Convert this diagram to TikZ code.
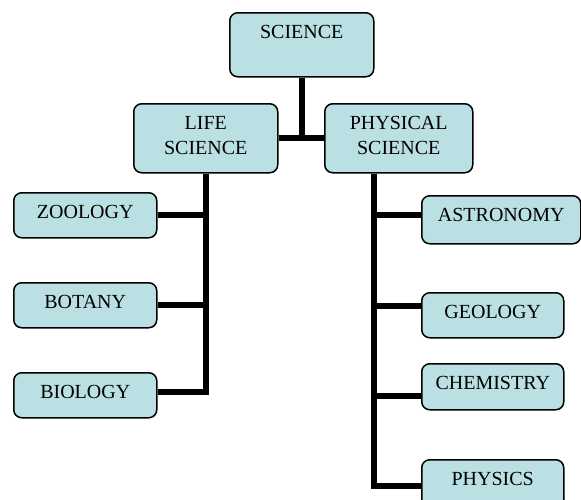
\documentclass[tikz,border=0pt]{standalone}
\usepackage{fontspec}
\setmainfont{Liberation Serif}
\usepackage{tikz}
\usepackage{xcolor}
\definecolor{boxfill}{RGB}{187,224,227}
\tikzset{
    topic-box/.style = {draw=black, fill=boxfill, line width=1.5pt, rectangle, rounded corners=8pt, anchor=north west, inner xsep=0pt, inner ysep=0pt, align=center, text height=26pt, font=\fontsize{20}{25}\selectfont},
    link-line/.style = {draw=black, line width=6pt},
}

\begin{document}
\begin{tikzpicture}[x=1pt, y=-1pt]
\useasboundingbox (0,0) rectangle (581,499);
\clip (0,0) rectangle (581,499);
\node[topic-box, minimum width=144pt, text depth=38pt] (science) at (229,12) {SCIENCE};
\node[topic-box, minimum width=144pt, text height=51pt, text depth=18pt] (life) at (133,103) {LIFE\\SCIENCE};
\node[topic-box, minimum width=148pt, text height=51pt, text depth=18pt] (physical) at (324,103) {PHYSICAL\\SCIENCE};
\node[topic-box, minimum width=143pt, text depth=19pt] (zoology) at (13,192) {ZOOLOGY};
\node[topic-box, minimum width=143pt, text depth=19pt] (botany) at (13,282) {BOTANY};
\node[topic-box, minimum width=143pt, text depth=19pt] (biology) at (13,372) {BIOLOGY};
\node[topic-box, minimum width=159pt, text depth=22pt] (astronomy) at (421,195) {ASTRONOMY};
\node[topic-box, minimum width=142pt, text depth=19pt] (geology) at (421,292) {GEOLOGY};
\node[topic-box, minimum width=142pt, text depth=20pt] (chemistry) at (421,363) {CHEMISTRY};
\node[topic-box, minimum width=142pt, text depth=22pt] (physics) at (421,459) {PHYSICS};
\coordinate (physical-root) at ([xshift=50pt]physical.south west);

\draw[link-line] (science.south) -- (science.south |- life.east);
\draw[link-line] (life.east) -- (physical.west);
\draw[link-line] (life.south) |- ([yshift=3pt]biology.east);
\draw[link-line] (zoology.east) -- (zoology.east -| life.south);
\draw[link-line] (botany.east) -- (botany.east -| life.south);
\draw[link-line] (physical-root) |- ([yshift=-2pt]physics.west);
\draw[link-line] ([yshift=5pt]astronomy.west) -- ([yshift=5pt]astronomy.west -| physical-root);
\draw[link-line] ([yshift=9.5pt]geology.west) -- ([yshift=9.5pt]geology.west -| physical-root);
\draw[link-line] ([yshift=-9pt]chemistry.west) -- ([yshift=-9pt]chemistry.west -| physical-root);
\end{tikzpicture}
\end{document}
